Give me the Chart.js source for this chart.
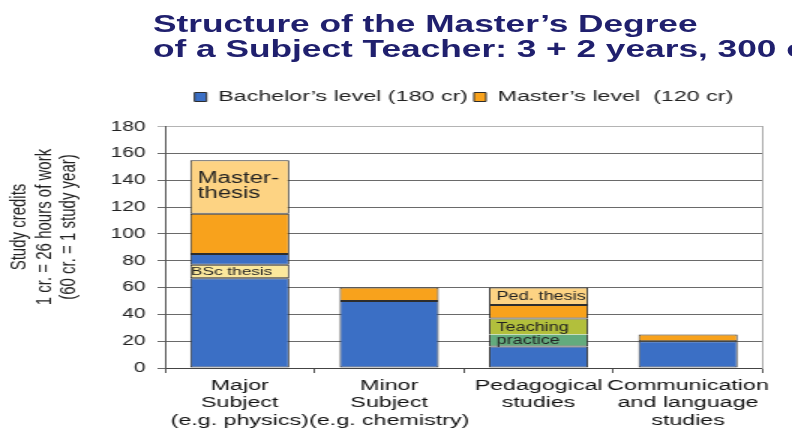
<!DOCTYPE html>
<html>
<head>
<meta charset="utf-8">
<script src="https://cdn.jsdelivr.net/npm/chart.js@4.4.1/dist/chart.umd.min.js"></script>
<style>
html, body { margin: 0; padding: 0; background: #fff; overflow: hidden; }
#wrap { position: relative; width: 792px; height: 429px; overflow: hidden; }
#title {
    position: absolute; left: 153px; top: 12px;
    font: bold 23.5px "Liberation Sans", Arial, sans-serif; line-height: 25px;
    color: #20206e; white-space: nowrap;
    transform: scaleX(1.5); transform-origin: 0 0; z-index: 2;
}
#chart { position: absolute; left: 0; top: 0; }
</style>
</head>
<body>
<div id="wrap">
  <div id="title">Structure of the Master’s Degree<br>of a Subject Teacher: 3 + 2 years, 300 cr</div>
  <canvas id="chart" width="528" height="429" style="width:792px;height:429px"></canvas>
</div>
<script>
// categories and credit values (study credits per part)
var categories = [
    ["Major", "Subject", "(e.g. physics)"],
    ["Minor", "Subject", "(e.g. chemistry)"],
    ["Pedagogical", "studies"],
    ["Communication", "and language", "studies"]
];
var bachelorBase     = [67, 50, 16, 20];
var bscThesis        = [10, null, null, null];
var teachingBachelor = [null, null, 9, null];
var bachelorUpper    = [8, null, null, null];
var teachingMaster   = [null, null, 12, null];
var masterStudies    = [30, 10, 10, 5];
var masterThesis     = [40, null, 13, null];

var yMax = 180;
var yStep = 20;
var yTitle = ["Study credits", "1 cr. = 26 hours of work", "(60 cr. = 1 study year)"];

// text written inside some of the segments
var barNotes = [
    { series: 6, cat: 0, lines: ["Master-", "thesis"] },
    { series: 1, cat: 0, lines: ["BSc thesis"] },
    { series: 6, cat: 2, lines: ["Ped. thesis"] },
    { series: 4, cat: 2, lines: ["Teaching"] },
    { series: 2, cat: 2, lines: ["practice"] }
];
var noteLook = [
    { size: 16, dx: 5, top: 18, gap: 15 },
    { size: 11.5, dx: 0.5, dy: 0 },
    { size: 12, dx: 5, dy: 0 },
    { size: 12, dx: 5, dy: 1.5 },
    { size: 12, dx: 5, dy: 0 }
];

var FONT = '"Liberation Sans", Arial, sans-serif';
var edge = '#2d2d2d';

function seg(label, data, color, bw) {
    return {
        label: label,
        data: data,
        backgroundColor: color,
        borderColor: edge,
        borderWidth: bw === undefined ? 1 : bw,
        borderSkipped: false,
        barPercentage: 0.663,
        categoryPercentage: 1
    };
}

var notesPlugin = {
    id: 'notes',
    afterDatasetsDraw: function(chart) {
        var ctx = chart.ctx;
        ctx.save();
        ctx.fillStyle = '#222';
        ctx.textAlign = 'left';
        ctx.textBaseline = 'middle';
        barNotes.forEach(function(n, i) {
            var el = chart.getDatasetMeta(n.series).data[n.cat];
            var look = noteLook[i];
            var left = el.x - el.width / 2 + look.dx;
            ctx.font = look.size + 'px ' + FONT;
            if (look.top !== undefined) {
                n.lines.forEach(function(t, k) {
                    ctx.fillText(t, left, el.y + look.top + k * look.gap);
                });
            } else {
                ctx.fillText(n.lines[0], left, (el.y + el.base) / 2 + look.dy);
            }
        });
        // y axis title, three rotated lines
        ctx.fillStyle = '#222';
        ctx.font = '15px ' + FONT;
        ctx.textAlign = 'center';
        yTitle.forEach(function(t, k) {
            ctx.save();
            ctx.translate(13 + k * 16.5, 227);
            ctx.rotate(-Math.PI / 2);
            ctx.fillText(t, 0, 0);
            ctx.restore();
        });
        ctx.restore();
    }
};

var ctx = document.getElementById('chart');
var chart = new Chart(ctx, {
    type: 'bar',
    data: {
        labels: categories,
        datasets: [
            seg("Bachelor’s level (180 cr)", bachelorBase, '#3b6fc5'),
            seg("BSc thesis", bscThesis, '#fbe89c'),
            seg("Teaching practice", teachingBachelor, '#63ab7d', {top: 0, left: 1, right: 1, bottom: 1}),
            seg("Bachelor’s level", bachelorUpper, '#3b6fc5'),
            seg("Teaching practice ", teachingMaster, '#b2bf3c', {top: 1, left: 1, right: 1, bottom: 0}),
            seg("Master’s level  (120 cr)", masterStudies, '#f8a21c'),
            seg("Master thesis", masterThesis, '#fdd383')
        ]
    },
    options: {
        responsive: false,
        animation: false,
        devicePixelRatio: 1,
        layout: { padding: { top: 85.25, right: 19.5, left: 0, bottom: 0 } },
        plugins: {
            title: { display: false },
            tooltip: { enabled: false },
            legend: {
                display: true,
                position: 'top',
                fullSize: false,
                labels: {
                    boxWidth: 8,
                    boxHeight: 9,
                    padding: 4,
                    color: '#222',
                    font: { family: FONT, size: 15.5 },
                    filter: function(item) {
                        return item.datasetIndex === 0 || item.datasetIndex === 5;
                    }
                }
            }
        },
        scales: {
            x: {
                stacked: true,
                grid: { display: true, drawOnChartArea: false, tickLength: 5, color: '#555', offset: true },
                border: { color: '#444' },
                ticks: { color: '#111', font: { family: FONT, size: 15.5, lineHeight: 1.12 }, padding: 4, maxRotation: 0, autoSkip: false },
                afterFit: function(s) { s.height = 61; }
            },
            xTop: {
                type: 'category',
                position: 'top',
                display: true,
                grid: { display: false },
                border: { display: false },
                ticks: { display: false },
                afterFit: function(s) { s.height = 12; }
            },
            y: {
                stacked: true,
                min: 0,
                max: yMax,
                ticks: { stepSize: yStep, color: '#222', font: { family: FONT, size: 14 }, padding: 8 },
                grid: {
                    tickLength: 5,
                    color: function(c) { return c.tick && c.tick.value === yMax ? '#b4b4b4' : '#6a6a6a'; }
                },
                border: { color: '#555' },
                afterFit: function(s) { s.width = 110; }
            },
            y2: {
                type: 'linear',
                position: 'right',
                display: true,
                grid: { drawOnChartArea: false, drawTicks: false },
                ticks: { display: false },
                border: { color: '#aaa' },
                afterFit: function(s) { s.width = 0; }
            }
        }
    },
    plugins: [notesPlugin]
});
</script>
</body>
</html>
